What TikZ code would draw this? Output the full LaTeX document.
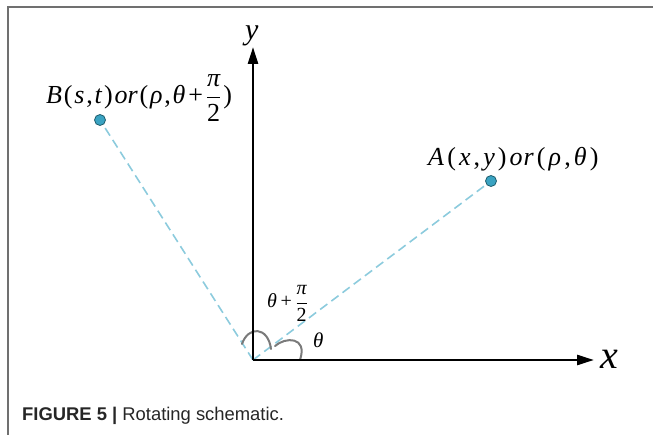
\documentclass[tikz,border=0pt]{standalone}
\usepackage{amsmath}
\usepackage{mathptmx}
\usepackage{fontspec}
\setmainfont{Liberation Serif}
\setsansfont{Liberation Sans}
\usetikzlibrary{arrows.meta}
\definecolor{dashblue}{HTML}{8CCBDD}
\definecolor{ptfill}{HTML}{3AA3C2}
\definecolor{ptedge}{HTML}{1F5E6E}
\definecolor{framegray}{HTML}{707070}
\definecolor{arcgray}{HTML}{7A7A7A}
\newcommand\myit[1]{\textit{#1}}
\newcommand\gp{\kern3.1pt}
\newcommand\gb{\kern1.8pt}
\newcommand\pls{\kern3pt+\kern3pt}
\newcommand\halfpi{$\dfrac{\text{\itshape π}}{\text{2}}$}
\tikzset{
  axis/.style={line width=2.6pt,-{Triangle[length=17pt,width=10pt]}},
  ray/.style={dashblue,line width=1.6pt,dash pattern=on 9pt off 5pt},
  pt/.style={circle,fill=ptfill,draw=ptedge,line width=0.8pt,minimum size=11pt,inner sep=0pt},
  anglearc/.style={arcgray,line width=2pt,line cap=round},
  lbl/.style={inner sep=0pt,font=\fontsize{26}{28}\selectfont}
}
\begin{document}
\begin{tikzpicture}[x=1pt,y=-1pt]
\useasboundingbox (0,0) rectangle (653,435);
\draw[framegray,line width=1.6pt] (8,436) -- (8,7) -- (653,7);
\coordinate (O) at (253,360);
\coordinate (xe) at (594,360);
\coordinate (ye) at (253,47);
\node[pt] (A) at (491,181) {};
\node[pt] (B) at (100,120) {};
\draw[ray] (O) -- (A);
\draw[ray] (O) -- (B);
\draw[anglearc] (242,344) .. controls (248,326) and (268,326) .. (271,349);
\draw[anglearc] (275,346) .. controls (285,337) and (308,336) .. (300,360);
\draw[axis] (O) -- (xe);
\draw[axis] (O) -- (ye);
\node[lbl,anchor=base west] (xl) at (600,368) {\fontsize{40}{42}\selectfont\myit{x}};
\node[lbl,anchor=base west] (yl) at (245,40) {\fontsize{30}{32}\selectfont\myit{y}};
\node[lbl,anchor=base west] (Bl) at (46,104) {\myit{B}\gb(\gb\myit{s}\gb,\gb\myit{t}\gb)\gb\myit{or}\gb(\gb\myit{ρ}\gb,\gb\myit{θ}\pls\halfpi\gb)};
\node[lbl,anchor=base west] (Al) at (428,166) {\myit{A}\gp(\gp\myit{x}\gp,\gp\myit{y}\gp)\gp\myit{o}\kern1pt\myit{r}\gp(\gp\myit{ρ}\gp,\gp\myit{θ}\gp)};
\node[lbl,anchor=base west] (t2) at (267,308) {\fontsize{20}{22}\selectfont\myit{θ}\kern3.5pt+\kern3.5pt\halfpi};
\node[lbl,anchor=base west] (t1) at (313,348) {\fontsize{21}{23}\selectfont\myit{θ}};
\node[anchor=base west,inner sep=0pt,text=black!85] (cap) at (22,420) {\sffamily\fontsize{18.4}{20}\selectfont\textbf{FIGURE 5 |} Rotating schematic.};
\end{tikzpicture}
\end{document}
